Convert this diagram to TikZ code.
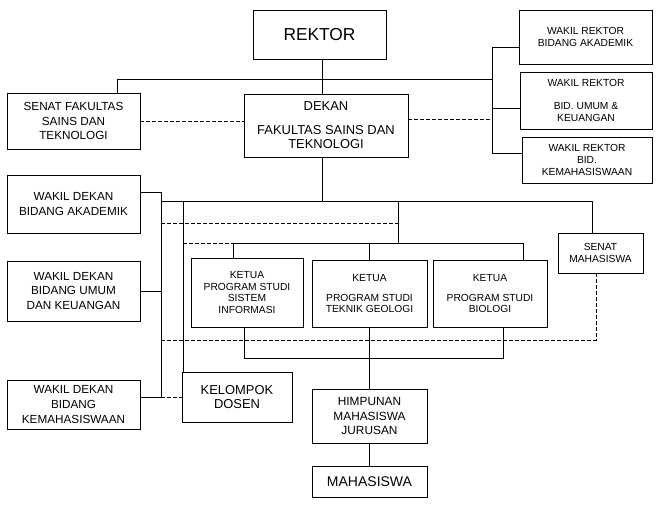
\documentclass[tikz,border=0pt]{standalone}
\usepackage{fontspec}
\setmainfont{Liberation Sans}
\tikzset{
  box/.style={draw,align=center,inner sep=0pt},
  wh/.style 2 args={minimum width=#1*0.75pt,minimum height=#2*0.75pt},
  txtS/.style={font=\fontsize{7.7}{8.7}\selectfont},
  txtM/.style={font=\fontsize{8.8}{11.2}\selectfont},
  txtL/.style={font=\fontsize{9.7}{10.5}\selectfont},
  dashline/.style={dash pattern=on 3pt off 1.5pt}
}
\begin{document}
\begin{tikzpicture}[x=0.75pt,y=-0.75pt,line width=0.7pt]
        \useasboundingbox (0,0) rectangle (659,506);
        % junctions
        \coordinate (j1) at (322,79);
        \coordinate (barL) at (117,79);
        \coordinate (barR) at (492,79);
        \coordinate (wrtop) at (492,47);
        \coordinate (wrmid) at (492,108);
        \coordinate (wrbot) at (492,153);
        \coordinate (dkR) at (492,119);
        \coordinate (j2) at (322,201);
        \coordinate (busL) at (161,201);
        \coordinate (busR) at (592,201);
        \coordinate (wdtop) at (161,192);
        \coordinate (wdbot) at (161,397);
        \coordinate (dsx) at (183,201);
        \coordinate (kpx) at (398,201);
        \coordinate (kpd) at (398,223);
        \coordinate (kpL) at (233,243);
        \coordinate (kpR) at (523,243);
        \coordinate (smd) at (596,340);
        \coordinate (smL) at (160,340);
        \coordinate (hL) at (244,358);
        \coordinate (hR) at (503,358);
        % boxes
        \node[box,wh={133}{49},font=\fontsize{13}{15}\selectfont] (rektor) at (319.5,34.5) {REKTOR};
        \node[box,wh={133}{56},txtM] (senatf) at (73.5,121) {SENAT FAKULTAS\\SAINS DAN\\TEKNOLOGI};
        \node[box,wh={164}{63},txtL] (dekan) at (326,125.5) {DEKAN\\[7.5pt]FAKULTAS SAINS DAN\\TEKNOLOGI};
        \node[box,wh={133}{54},txtS] (wr1) at (585.5,37) {WAKIL REKTOR\\BIDANG AKADEMIK};
        \node[box,wh={132}{57},txtS] (wr2) at (586,100.5) {WAKIL REKTOR\\[8.5pt]BID. UMUM \&\\KEUANGAN};
        \node[box,wh={130}{46},txtS] (wr3) at (587,160) {WAKIL REKTOR\\BID.\\KEMAHASISWAAN};
        \node[box,wh={133}{58},txtM] (wd1) at (73.5,204) {WAKIL DEKAN\\BIDANG AKADEMIK};
        \node[box,wh={133}{60},txtM] (wd2) at (73.5,291) {WAKIL DEKAN\\BIDANG UMUM\\DAN KEUANGAN};
        \node[box,wh={133}{49},txtM] (wd3) at (73.5,404.5) {WAKIL DEKAN\\BIDANG\\KEMAHASISWAAN};
        \node[box,wh={112}{69},txtS] (kpsi) at (247,292.5) {KETUA\\PROGRAM STUDI\\SISTEM\\INFORMASI};
        \node[box,wh={115}{67},txtS] (kptg) at (369.5,293.5) {KETUA\\[6.5pt]PROGRAM STUDI\\TEKNIK GEOLOGI};
        \node[box,wh={114}{67},txtS] (kpbio) at (490,293.5) {KETUA\\[6.5pt]PROGRAM STUDI\\BIOLOGI};
        \node[box,wh={85}{40},txtS] (senatm) at (600.5,253) {SENAT\\MAHASISWA};
        \node[box,wh={110}{50},font=\fontsize{9.7}{10}\selectfont] (dosen) at (237,397) {KELOMPOK\\DOSEN};
        \node[box,wh={115}{54},font=\fontsize{8.9}{11}\selectfont] (hmj) at (369.5,416) {HIMPUNAN\\MAHASISWA\\JURUSAN};
        \node[box,wh={115}{31},font=\fontsize{10.5}{12}\selectfont] (mhs) at (369.5,481.5) {MAHASISWA};
        % lines from rektor and dekan
        \draw (rektor.south -| j1) -- (dekan.north -| j1);
        \draw (senatf.north -| barL) -- (barL) -- (barR);
        \draw (wr1.west |- wrtop) -- (wrtop) -- (wrbot) -- (wr3.west |- wrbot);
        \draw (wrmid) -- (wr2.west |- wrmid);
        \draw[dashline] (senatf.east) -- (senatf.east -| dekan.west);
        \draw[dashline] (dekan.east |- dkR) -- (dkR);
        \draw (dekan.south -| j2) -- (j2);
        \draw (busL) -- (busR) -- (senatm.north -| busR);
        % wakil dekan
        \draw (wd1.east |- wdtop) -- (wdtop) -- (wdbot) -- (wd3.east |- wdbot);
        \draw (wd2.east) -- (wd2.east -| wdtop);
        \draw (dsx) -- (dosen.north -| dsx);
        \draw[dashline] (wdbot) -- (dosen.west |- wdbot);
        \draw[dashline] (kpd -| wdtop) -- (kpd);
        % program studi
        \draw (kpx) -- (kpx |- kpL);
        \draw (kpsi.north -| kpL) -- (kpL) -- (kpR) -- (kpbio.north -| kpR);
        \draw (kptg.north) -- (kptg.north |- kpL);
        \draw[dashline] (kpL -| dsx) -- (kpL);
        \draw[dashline] (senatm.south -| smd) -- (smd) -- (smL);
        \draw (kpsi.south -| hL) -- (hL) -- (hR) -- (kpbio.south -| hR);
        \draw (kptg.south) -- (hmj.north);
        \draw (hmj) -- (mhs);
\end{tikzpicture}
\end{document}
